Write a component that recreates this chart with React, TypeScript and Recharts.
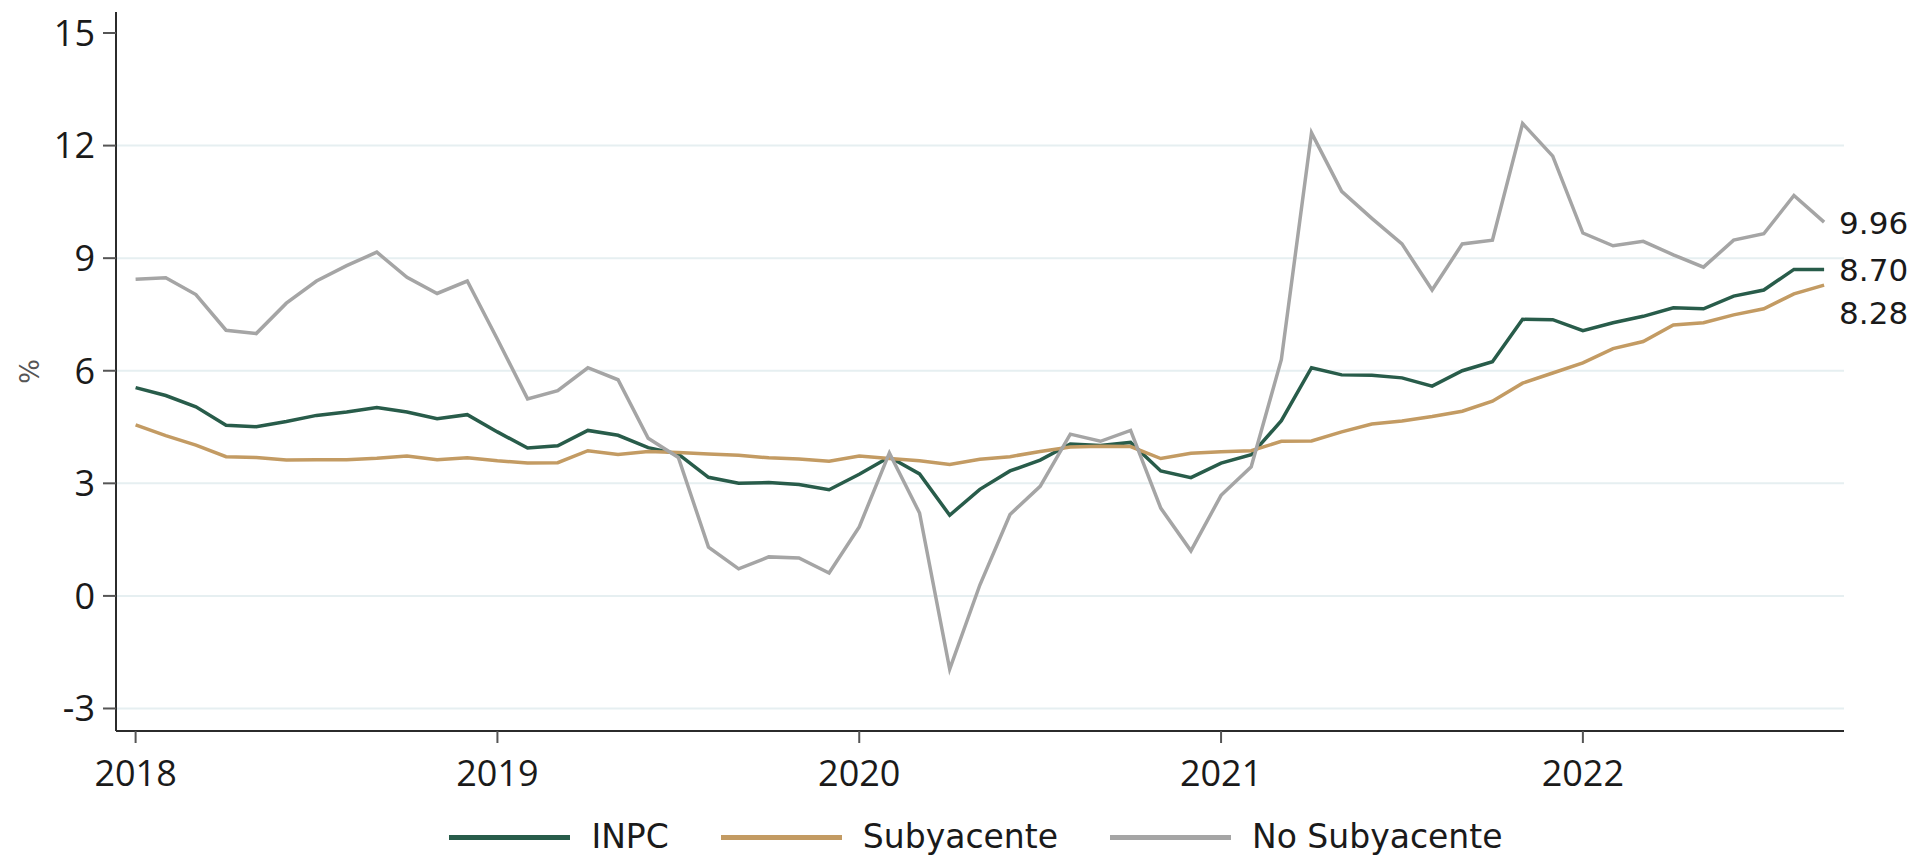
import React from 'react';
import { LineChart, Line, XAxis, YAxis, CartesianGrid } from 'recharts';

// Monthly annual inflation, Jan 2018 – Sep 2022 (%)
const years = [2018, 2019, 2020, 2021, 2022];
const yTicks = [-3, 0, 3, 6, 9, 12, 15];
const gridValues = [-3, 0, 3, 6, 9, 12];

const inpc = [
  5.55, 5.34, 5.04, 4.55, 4.51, 4.65, 4.81, 4.90, 5.02, 4.90, 4.72, 4.83,
  4.37, 3.94, 4.00, 4.41, 4.28, 3.95, 3.78, 3.16, 3.00, 3.02, 2.97, 2.83,
  3.24, 3.70, 3.25, 2.15, 2.84, 3.33, 3.62, 4.05, 4.01, 4.09, 3.33, 3.15,
  3.54, 3.76, 4.67, 6.08, 5.89, 5.88, 5.81, 5.59, 6.00, 6.24, 7.37, 7.36,
  7.07, 7.28, 7.45, 7.68, 7.65, 7.99, 8.15, 8.70, 8.70,
];

const subyacente = [
  4.56, 4.27, 4.02, 3.71, 3.69, 3.62, 3.63, 3.63, 3.67, 3.73, 3.63, 3.68,
  3.60, 3.54, 3.55, 3.87, 3.77, 3.85, 3.82, 3.78, 3.75, 3.68, 3.65, 3.59,
  3.73, 3.66, 3.60, 3.50, 3.64, 3.71, 3.85, 3.97, 3.99, 3.98, 3.66, 3.80,
  3.84, 3.87, 4.12, 4.13, 4.37, 4.58, 4.66, 4.78, 4.92, 5.19, 5.67, 5.94,
  6.21, 6.59, 6.78, 7.22, 7.28, 7.49, 7.65, 8.05, 8.28,
];

const noSubyacente = [
  8.44, 8.48, 8.03, 7.08, 6.99, 7.80, 8.39, 8.80, 9.16, 8.49, 8.06, 8.39,
  6.84, 5.25, 5.47, 6.08, 5.76, 4.20, 3.69, 1.30, 0.72, 1.04, 1.01, 0.61,
  1.84, 3.81, 2.21, -1.95, 0.29, 2.17, 2.92, 4.31, 4.12, 4.41, 2.34, 1.20,
  2.68, 3.44, 6.30, 12.34, 10.78, 10.06, 9.38, 8.15, 9.38, 9.48, 12.59, 11.72,
  9.67, 9.33, 9.45, 9.09, 8.76, 9.48, 9.65, 10.67, 9.96,
];

const series = [
  { key: 'inpc', name: 'INPC', color: '#285c4a', labelOffset: 0 },
  { key: 'subyacente', name: 'Subyacente', color: '#c39b63', labelOffset: 28 },
  { key: 'noSubyacente', name: 'No Subyacente', color: '#a5a5a5', labelOffset: 1 },
];

const data = inpc.map((v, i) => ({
  t: i,
  inpc: v,
  subyacente: subyacente[i],
  noSubyacente: noSubyacente[i],
}));

const lastIndex = data.length - 1;
const xTicks = years.map((_, i) => i * 12);

const TICK_FONT = '"Open Sans", "DejaVu Sans", sans-serif';
const LABEL_FONT = '"DejaVu Sans", sans-serif';

// End-of-line value label, drawn through the line's own dot renderer
const makeEndLabel = (offset: number) => (props: any) => {
  const { cx, cy, value, index, key } = props;
  if (index !== lastIndex || cx == null || cy == null) return <g key={key ?? `d-${index}`} />;
  const v = Array.isArray(value) ? value[1] : value;
  return (
    <text
      key={key ?? `d-${index}`}
      x={Number(cx) + 15}
      y={Number(cy) + offset}
      dy="0.36em"
      fontSize={31}
      fontFamily={LABEL_FONT}
      fill="#1a1a1a"
      textAnchor="start"
    >
      {Number(v).toFixed(2)}
    </text>
  );
};

const PercentLabel = (props: any) => {
  const vb = props.viewBox || { x: 0, y: 0, width: 0, height: 0 };
  const cx = vb.x + 30;
  const cy = vb.y + vb.height / 2;
  return (
    <text
      x={cx}
      y={cy}
      dy="0.36em"
      textAnchor="middle"
      transform={`rotate(-90 ${cx} ${cy})`}
      fontSize={26}
      fontFamily={LABEL_FONT}
      fill="#555"
    >
      %
    </text>
  );
};

export default function App() {
  return (
    <div style={{ position: 'absolute', left: 0, top: 0, width: 1919, height: 856, background: '#fff' }}>
      <LineChart
        width={1919}
        height={856}
        data={data}
        margin={{ top: 12, right: 75, left: 0, bottom: 65 }}
      >
        <CartesianGrid
          vertical={false}
          horizontalValues={gridValues}
          stroke="#e6eff1"
          strokeWidth={2}
        />
        <XAxis
          dataKey="t"
          type="number"
          domain={[-0.65, 56.66]}
          ticks={xTicks}
          tickFormatter={(v: number) => String(years[Math.round(v / 12)])}
          height={60}
          tickSize={12}
          tickMargin={17}
          axisLine={{ stroke: '#2b2b2b', strokeWidth: 2 }}
          tickLine={{ stroke: '#555', strokeWidth: 2 }}
          tick={{ fill: '#1a1a1a', fontSize: 36, fontFamily: TICK_FONT }}
        />
        <YAxis
          type="number"
          domain={[-3.6, 15.56]}
          ticks={yTicks}
          width={116}
          tickSize={13}
          tickMargin={8}
          axisLine={{ stroke: '#2b2b2b', strokeWidth: 2 }}
          tickLine={{ stroke: '#555', strokeWidth: 2 }}
          tick={{ fill: '#1a1a1a', fontSize: 36, fontFamily: TICK_FONT }}
          label={<PercentLabel />}
        />
        {series.map((s) => (
          <Line
            key={s.key}
            type="linear"
            dataKey={s.key}
            name={s.name}
            stroke={s.color}
            strokeWidth={3.5}
            dot={makeEndLabel(s.labelOffset)}
            activeDot={false}
            isAnimationActive={false}
          />
        ))}
      </LineChart>
      <div
        style={{
          position: 'absolute',
          left: 116,
          width: 1728,
          top: 817,
          height: 40,
          display: 'flex',
          justifyContent: 'center',
          alignItems: 'center',
          paddingRight: 8,
          boxSizing: 'border-box',
          fontFamily: LABEL_FONT,
          fontSize: 33,
          color: '#1a1a1a',
        }}
      >
        {series.map((s, i) => (
          <div
            key={s.key}
            style={{ display: 'flex', alignItems: 'center', marginLeft: i === 0 ? 0 : 52 }}
          >
            <div style={{ width: 121, height: 5, background: s.color, marginRight: 21 }} />
            <span style={{ lineHeight: '40px', whiteSpace: 'nowrap' }}>{s.name}</span>
          </div>
        ))}
      </div>
    </div>
  );
}
